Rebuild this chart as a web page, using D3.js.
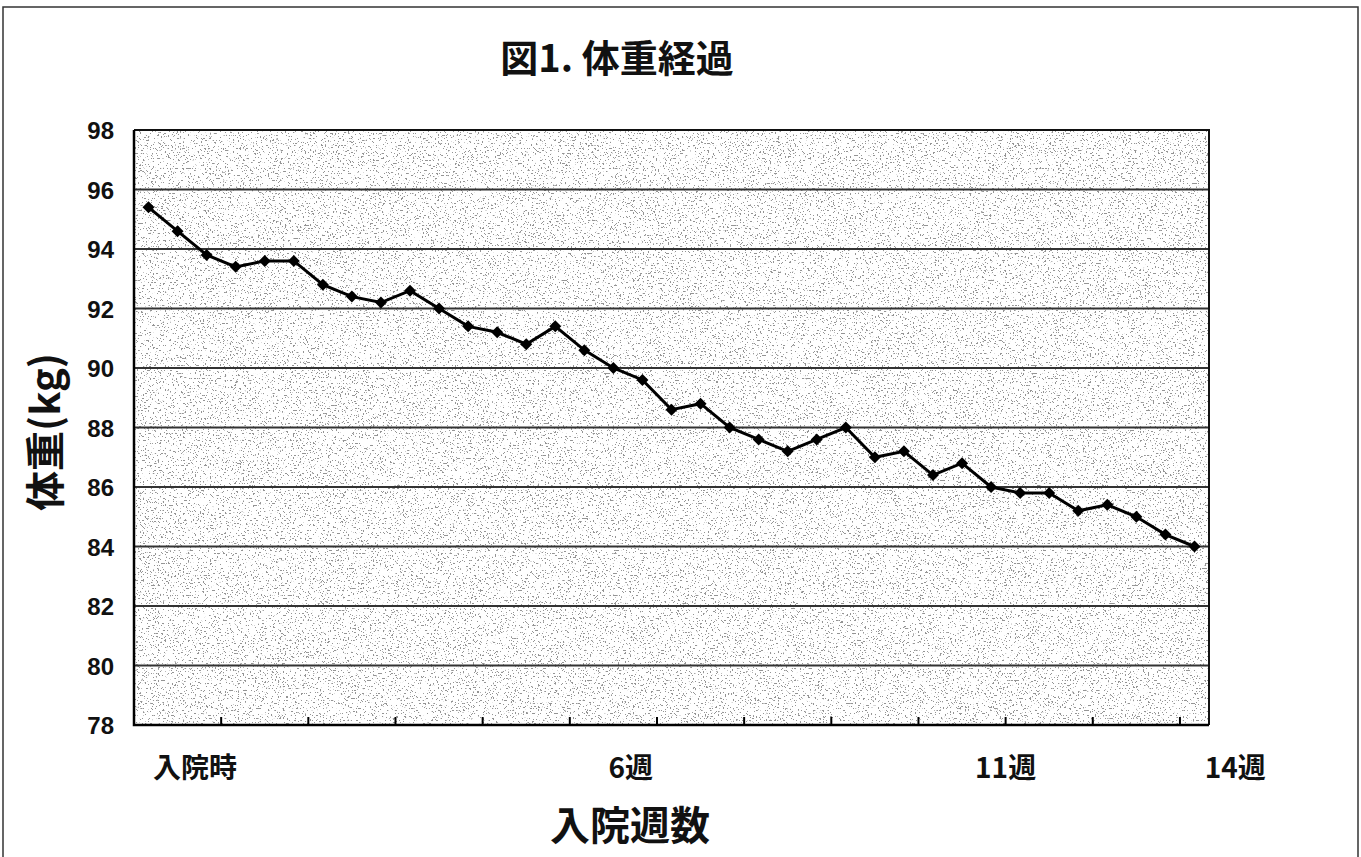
<!DOCTYPE html>
<html>
<head>
<meta charset="utf-8">
<script src="https://cdn.jsdelivr.net/npm/d3@7"></script>
<style>
  body { margin: 0; background: #fff; }
  .gridline { stroke: #333; stroke-width: 2; }
  .tick-label { font-family: "Liberation Sans", Arial, sans-serif; font-weight: bold; font-size: 24px; fill: #111; }
  .cat-label { font-family: "Noto Sans CJK JP", sans-serif; font-weight: bold; font-size: 28px; fill: #111; }
  .title { font-family: "Noto Sans CJK JP", sans-serif; font-weight: bold; fill: #111; }
</style>
</head>
<body>
<div id="plot"></div>
<script>
const CANVAS_WIDTH   = 1361;
const CANVAS_HEIGHT  =  857;

const PLOT_LEFT      =  134;
const PLOT_RIGHT     = 1209;
const PLOT_TOP       =  130;
const PLOT_BOTTOM    =  725;

const TICK_EVERY     =    3;

// weight (kg) at each measurement, admission -> 14 weeks
const WEIGHTS = [95.4, 94.6, 93.8, 93.4, 93.6, 93.6, 92.8, 92.4, 92.2, 92.6,
                 92.0, 91.4, 91.2, 90.8, 91.4, 90.6, 90.0, 89.6, 88.6, 88.8,
                 88.0, 87.6, 87.2, 87.6, 88.0, 87.0, 87.2, 86.4, 86.8, 86.0,
                 85.8, 85.8, 85.2, 85.4, 85.0, 84.4, 84.0];

const Y_TICKS = [78, 80, 82, 84, 86, 88, 90, 92, 94, 96, 98];

// category labels and the (fractional) measurement index they sit under
const X_LABELS     = ["入院時", "6週", "11週", "14週"];
const X_LABEL_POS  = [1.6, 16.6, 29.5, 37.4];

const TITLE   = "図1. 体重経過";
const X_TITLE = "入院週数";
const Y_TITLE = "体重(kg)";

var svg, xScale, yScale;

svg = d3.select("#plot")
        .append("svg")
        .attr("width", CANVAS_WIDTH)
        .attr("height", CANVAS_HEIGHT);

xScale = d3.scaleLinear()
           .domain([-0.5, WEIGHTS.length - 0.5])
           .range([PLOT_LEFT, PLOT_RIGHT]);
yScale = d3.scaleLinear()
           .domain([78, 98])
           .range([PLOT_BOTTOM, PLOT_TOP]);

// scanned-paper speckle for the plot area
var defs = svg.append("defs");
var f = defs.append("filter")
            .attr("id", "speckle")
            .attr("x", 0).attr("y", 0).attr("width", "100%").attr("height", "100%");
f.append("feTurbulence")
 .attr("type", "fractalNoise")
 .attr("baseFrequency", 0.6)
 .attr("numOctaves", 2)
 .attr("seed", 7)
 .attr("result", "noise");
f.append("feColorMatrix")
 .attr("in", "noise")
 .attr("type", "matrix")
 .attr("values", "0 0 0 0 0.3  0 0 0 0 0.3  0 0 0 0 0.3  -25 0 0 0 9.2")
 .attr("result", "dots");
f.append("feComposite")
 .attr("in", "dots")
 .attr("in2", "SourceGraphic")
 .attr("operator", "over");

// outer frame
svg.append("path")
   .attr("d", "M3," + CANVAS_HEIGHT + " V7 H1358 V" + CANVAS_HEIGHT)
   .attr("fill", "none")
   .attr("stroke", "#333")
   .attr("stroke-width", 1.5);

svg.append("rect")
   .attr("x", PLOT_LEFT)
   .attr("y", PLOT_TOP)
   .attr("width", PLOT_RIGHT - PLOT_LEFT)
   .attr("height", PLOT_BOTTOM - PLOT_TOP)
   .attr("fill", "#fff")
   .attr("filter", "url(#speckle)");

// horizontal gridlines
svg.selectAll(".gridline")
   .data(Y_TICKS.slice(1, -1))
   .enter()
   .append("line")
   .attr("class", "gridline")
   .attr("x1", PLOT_LEFT)
   .attr("x2", PLOT_RIGHT)
   .attr("y1", d => yScale(d))
   .attr("y2", d => yScale(d));

// plot border (top / right) and axes (left / bottom)
svg.append("path")
   .attr("d", "M" + PLOT_LEFT + "," + PLOT_TOP + " H" + PLOT_RIGHT + " V" + PLOT_BOTTOM)
   .attr("fill", "none")
   .attr("stroke", "#111")
   .attr("stroke-width", 2);

svg.append("path")
   .attr("d", "M" + PLOT_LEFT + "," + PLOT_TOP + " V" + PLOT_BOTTOM + " H" + PLOT_RIGHT)
   .attr("fill", "none")
   .attr("stroke", "#000")
   .attr("stroke-width", 2.5);

// x tick marks every few categories
var tickIdx = d3.range(TICK_EVERY, WEIGHTS.length, TICK_EVERY);
svg.selectAll(".xtick")
   .data(tickIdx)
   .enter()
   .append("line")
   .attr("class", "xtick")
   .attr("x1", d => xScale(d - 0.5))
   .attr("x2", d => xScale(d - 0.5))
   .attr("y1", PLOT_BOTTOM)
   .attr("y2", PLOT_BOTTOM - 8)
   .attr("stroke", "#000")
   .attr("stroke-width", 2);

// y tick labels
svg.selectAll(".tick-label")
   .data(Y_TICKS)
   .enter()
   .append("text")
   .attr("class", "tick-label")
   .attr("text-anchor", "end")
   .attr("x", PLOT_LEFT - 20)
   .attr("y", d => yScale(d) + 9)
   .text(d => d);

// x category labels
svg.selectAll(".cat-label")
   .data(X_LABELS)
   .enter()
   .append("text")
   .attr("class", "cat-label")
   .attr("text-anchor", "middle")
   .attr("x", (d, i) => xScale(X_LABEL_POS[i]))
   .attr("y", 778)
   .text(d => d);

// weight line + diamond markers
var lineGen = d3.line()
                .x((d, i) => xScale(i))
                .y(d => yScale(d));

svg.append("path")
   .datum(WEIGHTS)
   .attr("d", lineGen)
   .attr("fill", "none")
   .attr("stroke", "#000")
   .attr("stroke-width", 3);

svg.selectAll(".marker")
   .data(WEIGHTS)
   .enter()
   .append("path")
   .attr("class", "marker")
   .attr("d", d3.symbol().type(d3.symbolSquare).size(72))
   .attr("transform", (d, i) => "translate(" + xScale(i) + "," + yScale(d) + ") rotate(45)")
   .attr("fill", "#000");

// titles
svg.append("text")
   .attr("class", "title")
   .attr("text-anchor", "middle")
   .attr("x", 617)
   .attr("y", 72)
   .style("font-size", "38px")
   .text(TITLE);

svg.append("text")
   .attr("class", "title")
   .attr("text-anchor", "middle")
   .attr("x", 630)
   .attr("y", 840)
   .style("font-size", "40px")
   .text(X_TITLE);

svg.append("text")
   .attr("class", "title")
   .attr("text-anchor", "middle")
   .attr("transform", "translate(60," + 432 + ") rotate(-90)")
   .style("font-size", "40px")
   .text(Y_TITLE);
</script>
</body>
</html>
